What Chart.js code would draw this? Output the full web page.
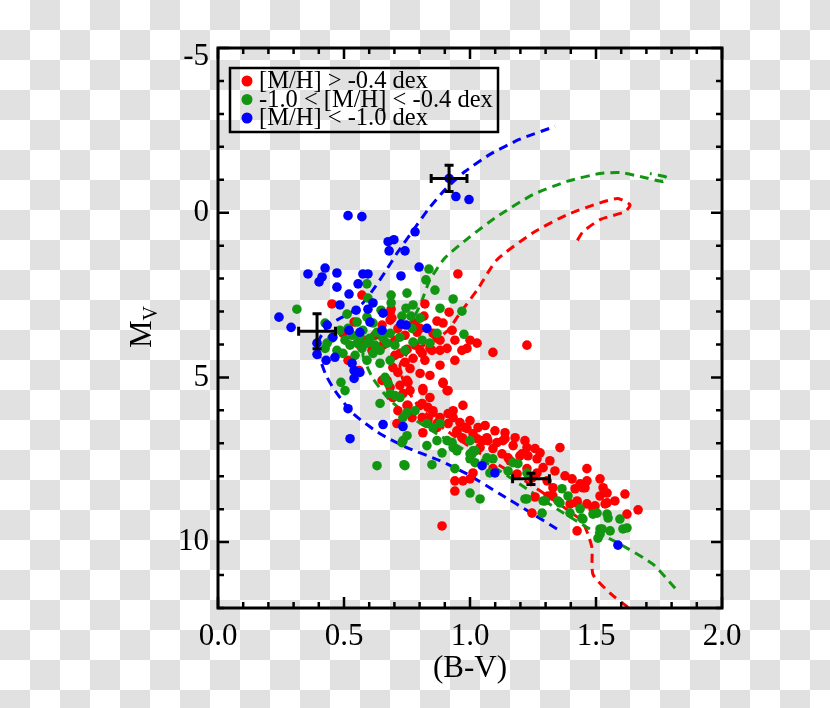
<!DOCTYPE html>
<html>
<head>
<meta charset="utf-8">
<script src="https://cdn.jsdelivr.net/npm/chart.js@4.4.0/dist/chart.umd.min.js"></script>
<style>
  html, body { margin: 0; padding: 0; }
  body {
    width: 830px; height: 708px;
    background: repeating-conic-gradient(#e1e1e1 0 25%, #ffffff 0 50%) 0 0 / 60px 60px;
  }
  canvas { display: block; }
</style>
</head>
<body>
<canvas id="cmd" width="830" height="708"></canvas>
<script>
// stars, (B-V) and M_V
let redBV = [0.571,0.452,0.952,0.821,0.687,0.917,0.869,0.893,0.817,0.690,0.496,0.540,0.790,0.853,0.881,1.000,1.028,0.988,1.091,0.750,
  0.802,0.841,0.881,0.909,0.762,0.802,0.841,0.893,0.913,0.694,0.671,0.722,0.754,0.651,0.560,1.226,0.683,0.683,0.782,0.802,
  0.869,0.849,0.810,0.774,0.722,0.683,0.750,0.762,0.813,0.841,0.694,0.734,0.750,0.802,0.853,0.909,0.972,0.933,0.833,0.869,
  0.948,0.980,1.032,0.968,1.012,1.067,1.040,1.107,1.131,1.171,1.206,1.159,1.226,0.710,0.770,0.714,0.813,0.893,0.754,0.810,
  0.833,0.853,0.881,0.913,0.933,0.960,0.913,0.869,0.813,0.810,0.948,0.988,0.972,1.028,1.052,1.071,1.091,1.127,1.139,1.226,
  1.258,1.151,1.198,1.230,1.266,1.290,1.266,1.306,1.329,1.357,1.310,1.246,1.187,1.091,0.940,0.972,1.000,0.940,1.012,0.889,
  1.258,1.405,1.437,1.464,1.456,1.464,1.417,1.425,1.464,1.528,1.544,1.536,1.488,1.615,1.667,1.623,1.425,1.246,1.329,1.448,
  1.496,1.397,1.425,1.544,0.583,0.623,0.655,0.702,0.611,0.563,0.742,0.714,0.651,0.929,0.940,0.968,0.782,0.516,
  1.000,1.060,1.099,1.139,1.179,1.218,1.278,1.317,1.337,1.377,1.516,1.575,1.516,0.702,0.742,0.821,0.881,0.940,0.714];
let redMV = [2.50,2.77,1.86,2.77,2.93,3.02,3.29,3.35,3.14,3.20,3.66,3.32,3.63,3.66,3.87,3.87,3.96,4.12,4.24,4.15,
  4.18,4.12,4.18,4.12,4.73,4.88,4.94,5.15,5.40,4.70,5.09,5.24,5.15,5.09,4.79,4.02,3.02,3.26,3.35,3.51,
  3.81,4.18,4.27,4.42,4.27,5.30,5.09,5.40,5.40,5.61,5.61,5.49,5.85,5.85,6.01,5.40,5.85,6.22,6.31,6.52,
  6.62,6.52,6.52,6.83,6.71,6.83,7.13,6.98,6.92,7.07,7.32,7.53,7.77,6.40,6.22,6.01,5.34,5.18,5.85,5.79,
  5.91,6.07,6.22,6.10,6.01,6.37,6.40,6.40,6.68,6.22,6.68,6.55,6.86,6.86,6.92,6.92,7.16,7.32,6.86,7.13,
  7.16,7.44,7.38,7.38,7.47,7.74,7.90,8.14,8.35,7.13,8.60,8.05,7.93,7.77,8.14,8.14,8.08,8.45,7.90,9.51,
  8.63,8.08,8.23,8.14,8.35,7.77,8.38,8.81,8.84,8.35,8.51,8.84,8.99,8.54,9.02,9.15,9.66,9.12,8.60,8.35,
  8.90,8.84,8.75,8.81,3.87,3.72,4.02,3.87,4.18,4.02,3.72,3.51,3.41,3.57,3.87,4.18,4.02,4.48,
  6.31,6.46,6.62,6.68,6.83,6.92,7.29,7.53,7.84,7.99,8.60,8.75,8.08,4.33,4.54,4.48,4.63,4.48,4.85];

let greenBV = [0.313,0.837,0.825,0.591,0.687,0.750,0.687,0.774,0.746,0.730,0.766,0.933,0.968,0.976,0.512,0.425,0.552,0.591,0.615,0.631,
  0.683,0.722,0.774,0.810,0.841,0.869,0.472,0.496,0.524,0.552,0.563,0.591,0.615,0.643,0.671,0.591,0.643,0.683,0.433,0.425,
  0.488,0.504,0.722,0.675,0.663,0.504,0.532,0.575,0.603,0.655,0.702,0.742,0.544,0.571,0.623,0.484,0.452,0.516,0.770,0.802,
  0.595,0.647,0.861,0.881,0.643,0.683,0.702,0.734,0.750,0.734,0.750,0.829,0.853,0.881,0.909,0.933,0.829,0.849,0.738,0.730,
  1.000,1.012,1.067,1.091,1.020,1.079,1.171,1.190,1.226,0.742,0.869,0.889,0.929,0.948,1.000,1.000,1.020,1.040,1.000,1.151,
  1.218,1.286,1.298,1.365,1.389,1.349,1.437,1.448,1.488,1.516,1.508,1.544,1.548,1.595,1.607,1.623,1.556,1.226,1.290,1.357,
  1.397,1.504,1.524,1.516,1.444,0.631,0.940,0.782];
let greenMV = [2.93,1.71,2.04,2.16,2.50,2.44,2.74,2.80,2.90,3.14,3.14,2.62,2.99,3.69,3.08,3.35,3.32,3.17,3.35,3.63,
  3.66,3.78,3.93,3.87,3.96,3.66,4.18,4.27,4.02,3.96,3.78,3.96,4.27,4.18,3.96,4.48,4.57,4.48,3.96,4.12,
  5.15,5.40,5.61,5.18,5.00,3.87,3.72,3.57,3.81,3.81,4.02,4.18,4.33,4.12,4.02,3.57,3.81,3.51,3.51,3.20,
  2.59,2.96,2.35,2.90,5.79,5.49,5.55,6.22,6.77,6.92,6.07,6.40,6.52,6.40,6.92,7.13,7.07,7.65,7.65,6.98,
  7.32,7.23,7.44,7.47,7.59,7.90,7.59,7.62,7.90,7.68,6.92,7.29,6.98,7.23,6.92,7.47,7.23,8.69,8.51,7.84,
  8.69,9.12,8.75,8.38,8.60,8.75,8.99,9.30,9.15,9.60,9.88,9.15,9.27,9.30,9.60,9.57,9.66,8.69,8.75,8.81,
  9.12,9.12,9.60,9.76,9.27,7.68,7.77,6.01];

let blueBV = [0.242,0.290,0.357,0.401,0.413,0.425,0.472,0.472,0.520,0.484,0.516,0.571,0.675,0.698,0.679,0.742,0.782,0.798,0.726,0.575,
  0.595,0.556,0.615,0.548,0.595,0.655,0.726,0.746,0.829,0.603,0.563,0.520,0.651,0.433,0.456,0.393,0.393,0.429,0.464,0.532,
  0.540,0.540,0.563,0.516,0.524,0.655,0.734,0.944,0.996,0.917,1.048,1.099,1.587];
let blueMV = [3.17,3.48,1.86,2.10,1.95,1.68,1.83,2.26,2.47,2.80,0.09,0.12,0.88,0.82,1.16,1.16,0.58,1.65,1.92,1.86,
  1.86,2.16,2.74,2.96,2.93,3.05,3.38,3.41,3.51,3.32,3.63,3.57,3.57,3.41,3.78,3.96,4.30,4.48,4.39,4.57,
  4.79,5.03,4.85,5.95,6.86,6.43,6.49,-0.49,-0.40,-1.04,7.68,7.90,10.09];

// isochrones
let isoRedBV = [1.627,1.556,1.488,1.484,1.468,1.444,1.337,1.218,1.099,0.980,0.881,0.794,0.742,0.722,0.762,0.841,0.913,0.960,1.028,1.107,
  1.250,1.385,1.516,1.587,1.635,1.615,1.516,1.448,1.425];
let isoRedMV = [11.98,11.55,10.98,10.18,9.76,9.36,8.75,8.14,7.59,7.01,6.46,5.85,5.24,4.63,4.18,3.96,3.57,3.05,2.35,1.43,
  0.61,0.06,-0.30,-0.43,-0.24,-0.03,0.21,0.58,0.85];
let isoGreenBV = [1.814,1.726,1.595,1.476,1.357,1.238,1.119,0.998,0.881,0.774,0.683,0.615,0.575,0.591,0.663,0.742,0.782,0.810,0.841,0.901,
  1.000,1.107,1.250,1.385,1.516,1.595,1.675,1.766,1.782,1.714];
let isoGreenMV = [11.40,10.67,10.06,9.60,9.05,8.45,7.84,7.29,6.77,6.25,5.70,5.03,4.33,4.02,3.72,3.51,3.11,2.65,2.04,1.37,
  0.73,0.12,-0.55,-0.95,-1.19,-1.22,-1.10,-0.95,-1.07,-1.19];
let isoBlueBV = [1.345,1.250,1.119,0.988,0.881,0.750,0.643,0.536,0.464,0.429,0.405,0.401,0.433,0.472,0.524,0.575,0.623,0.663,0.714,0.770,
  0.833,0.901,0.980,1.079,1.198,1.337];
let isoBlueMV = [9.60,9.15,8.54,7.93,7.53,7.13,6.71,6.10,5.40,4.94,4.42,3.87,3.48,3.26,3.05,2.74,2.26,1.80,1.19,0.58,
  -0.09,-0.70,-1.25,-1.77,-2.23,-2.62];

// typical error bars
let errBV = [0.917, 0.393, 1.242];
let errMV = [-1.04, 3.60, 8.08];
let errDBV = [0.071, 0.073, 0.073];
let errDMV = [0.40, 0.53, 0.17];

let legendLabels = ['[M/H] > -0.4 dex', '-1.0 < [M/H] < -0.4 dex', '[M/H] < -1.0 dex'];
let colors = ['#ff0000', '#129612', '#0000ff'];

let xMajor = [0, 0.5, 1, 1.5, 2];
let xLabels = ['0.0', '0.5', '1.0', '1.5', '2.0'];
let yMajor = [-5, 0, 5, 10];
let yLabels = ['-5', '0', '5', '10'];

function pts(xs, ys) {
  return xs.map((x, i) => ({ x: x, y: ys[i] }));
}

let serif = "'Liberation Serif', 'Times New Roman', serif";

let frame = {
  id: 'frame',
  afterDatasetsDraw(chart) {
    let c = chart.ctx;
    let a = chart.chartArea;
    let sx = chart.scales.x, sy = chart.scales.y;
    c.save();
    c.strokeStyle = '#000';
    c.lineCap = 'butt';

    // error bars
    c.lineWidth = 3;
    for (let i = 0; i < errBV.length; i++) {
      let x0 = sx.getPixelForValue(errBV[i] - errDBV[i]);
      let x1 = sx.getPixelForValue(errBV[i] + errDBV[i]);
      let y0 = sy.getPixelForValue(errMV[i] - errDMV[i]);
      let y1 = sy.getPixelForValue(errMV[i] + errDMV[i]);
      let cx = sx.getPixelForValue(errBV[i]);
      let cy = sy.getPixelForValue(errMV[i]);
      c.beginPath();
      c.moveTo(x0, cy); c.lineTo(x1, cy);
      c.moveTo(cx, y0); c.lineTo(cx, y1);
      c.moveTo(x0, cy - 4.5); c.lineTo(x0, cy + 4.5);
      c.moveTo(x1, cy - 4.5); c.lineTo(x1, cy + 4.5);
      c.moveTo(cx - 4.5, y0); c.lineTo(cx + 4.5, y0);
      c.moveTo(cx - 4.5, y1); c.lineTo(cx + 4.5, y1);
      c.stroke();
    }

    // ticks
    c.lineWidth = 2.5;
    c.beginPath();
    for (let i = 0; i <= 20; i++) {
      let v = i / 10;
      let len = (i % 5 === 0) ? 11 : 6;
      let px = sx.getPixelForValue(v);
      c.moveTo(px, a.bottom); c.lineTo(px, a.bottom - len);
      c.moveTo(px, a.top); c.lineTo(px, a.top + len);
    }
    for (let v = -5; v <= 12; v++) {
      let len = (v % 5 === 0) ? 11 : 6;
      let py = sy.getPixelForValue(v);
      c.moveTo(a.left, py); c.lineTo(a.left + len, py);
      c.moveTo(a.right, py); c.lineTo(a.right - len, py);
    }
    c.stroke();

    // frame
    c.lineWidth = 3;
    c.strokeRect(a.left, a.top, a.right - a.left, a.bottom - a.top);

    // tick labels
    c.fillStyle = '#000';
    c.font = '31px ' + serif;
    c.textAlign = 'center';
    c.textBaseline = 'middle';
    xMajor.forEach((v, i) => c.fillText(xLabels[i], sx.getPixelForValue(v), a.bottom + 29));
    c.textAlign = 'right';
    yMajor.forEach((v, i) => {
      let py = Math.max(sy.getPixelForValue(v), a.top + 9);
      c.fillText(yLabels[i], a.left - 9, py);
    });

    // axis titles
    c.textAlign = 'center';
    c.fillText('(B-V)', (a.left + a.right) / 2, a.bottom + 61);
    c.save();
    c.translate(151, 348);
    c.rotate(-Math.PI / 2);
    c.textAlign = 'left';
    c.textBaseline = 'alphabetic';
    c.font = '31px ' + serif;
    c.fillText('M', 0, 0);
    let mw = c.measureText('M').width;
    c.font = '20px ' + serif;
    c.fillText('V', mw, 6);
    c.restore();

    // legend
    c.lineWidth = 2.5;
    c.strokeRect(230, 68, 268, 64);
    c.font = '24.5px ' + serif;
    c.textAlign = 'left';
    c.textBaseline = 'middle';
    legendLabels.forEach((t, i) => {
      let y = 81 + i * 18.5;
      c.fillStyle = colors[i];
      c.beginPath();
      c.arc(247, y, 5.5, 0, Math.PI * 2);
      c.fill();
      c.fillStyle = '#000';
      c.fillText(t, 259, y + 1);
    });
    c.restore();
  }
};

function scatterSet(xs, ys, col) {
  return {
    data: pts(xs, ys),
    backgroundColor: col,
    borderWidth: 0,
    pointRadius: 4.8,
    showLine: false
  };
}
function isoSet(xs, ys, col) {
  return {
    data: pts(xs, ys),
    borderColor: col,
    borderWidth: 3,
    borderDash: [9, 6],
    pointRadius: 0,
    showLine: true,
    fill: false,
    tension: 0.2
  };
}

let ctx = document.getElementById('cmd').getContext('2d');
let chart = new Chart(ctx, {
  type: 'scatter',
  data: {
    datasets: [
      scatterSet(blueBV, blueMV, colors[2]),
      scatterSet(greenBV, greenMV, colors[1]),
      scatterSet(redBV, redMV, colors[0]),
      isoSet(isoBlueBV, isoBlueMV, colors[2]),
      isoSet(isoGreenBV, isoGreenMV, colors[1]),
      isoSet(isoRedBV, isoRedMV, colors[0])
    ]
  },
  options: {
    responsive: false,
    animation: false,
    layout: { padding: { left: 218, right: 108, top: 48, bottom: 100 } },
    plugins: { legend: { display: false }, tooltip: { enabled: false } },
    scales: {
      x: { type: 'linear', min: 0, max: 2, display: false },
      y: { type: 'linear', min: -5, max: 12, reverse: true, display: false }
    }
  },
  plugins: [frame]
});
</script>
</body>
</html>
